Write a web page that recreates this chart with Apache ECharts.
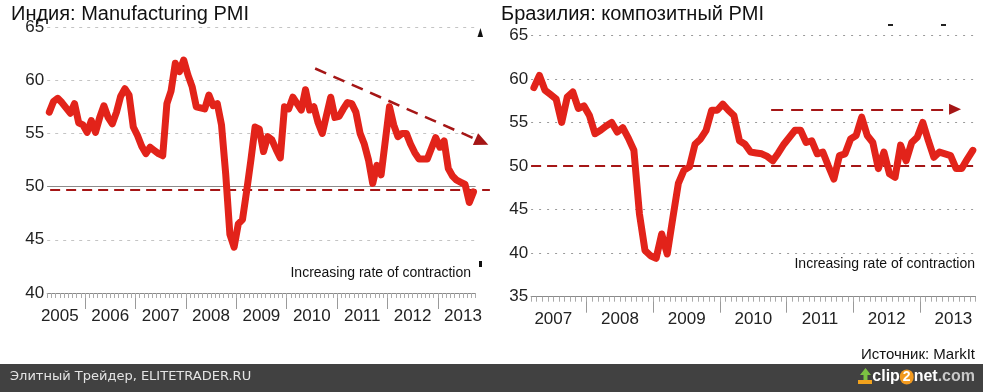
<!DOCTYPE html>
<html><head><meta charset="utf-8">
<script src="https://cdn.jsdelivr.net/npm/echarts@6/dist/echarts.min.js"></script>
<style>html,body{margin:0;padding:0;background:#fff}#c{width:983px;height:392px}</style>
</head><body><div id="c"></div>
<script>
// ---- DATA ----
// India Manufacturing PMI, monthly, first value = April 2005 (month index 3 counted from Jan 2005)
const indiaStartMonth = 3;
const indiaPMI = [
  57.0, 58.0, 58.3, 57.9, 57.4, 56.9, 57.8, 56.0, 55.8,
  55.1, 56.2, 55.1, 56.5, 57.6, 56.5, 55.9, 57.0, 58.5, 59.2, 58.6, 55.6,
  54.8, 53.8, 53.1, 53.7, 53.4, 53.1, 52.9, 57.8, 59.0, 61.6, 60.8, 61.9,
  60.5, 59.4, 57.5, 57.4, 57.3, 58.6, 57.6, 57.8, 55.8, 51.2, 45.5, 44.3,
  46.5, 46.9, 49.6, 52.5, 55.6, 55.4, 53.3, 54.7, 54.4, 53.5, 52.7, 57.5,
  57.3, 58.4, 57.8, 57.2, 59.1, 57.2, 57.5, 56.0, 55.0, 56.7, 58.4, 56.5,
  56.6, 57.3, 57.9, 57.8, 57.0, 55.0, 54.0, 52.5, 50.3, 52.0, 51.1, 54.3,
  57.5, 55.8, 54.7, 55.0, 55.0, 54.0, 53.2, 52.6, 52.6, 52.6, 53.6, 54.6,
  53.7, 54.3, 51.7, 51.0, 50.6, 50.4, 50.2, 48.5, 49.5
];
// Brazil composite PMI, monthly, first value = March 2007 (month index 2 counted from Jan 2007)
const brazilStartMonth = 2;
const brazilPMI = [
  59.0, 60.4, 58.7, 58.2, 57.7, 55.0, 57.9, 58.5, 56.6, 56.9,
  55.8, 53.7, 54.1, 54.6, 55.0, 53.9, 54.4, 53.2, 51.8, 44.5, 40.3, 39.7,
  39.4, 42.2, 39.9, 44.0, 48.0, 49.5, 49.9, 52.5, 53.1, 54.1, 56.4, 56.4,
  57.1, 56.4, 55.8, 52.9, 52.5, 51.6, 51.5, 51.4, 51.1, 50.6, 51.5, 52.5,
  53.3, 54.1, 54.1, 52.7, 52.9, 51.4, 51.6, 50.0, 48.5, 51.2, 51.4, 53.1,
  53.5, 55.6, 53.5, 52.7, 49.7, 51.6, 49.1, 48.7, 52.4, 50.6, 52.7, 53.3,
  55.0, 52.9, 51.0, 51.6, 51.4, 51.2, 49.7, 49.7, 50.8, 51.8
];
const indiaYears = ['2005','2006','2007','2008','2009','2010','2011','2012','2013'];
const brazilYears = ['2007','2008','2009','2010','2011','2012','2013'];
const indiaYRange = [40, 65];
const brazilYRange = [35, 65];
const indiaZeroLine = 49.7;   // dashed annotation level
const brazilZeroLine = 50;
const indiaTrend = [[66.8, 61.1], [106.5, 54.2]];
const brazilTrend = [[45.2, 56.5], [78.3, 56.5]];

// ---- CHART ----
const FONT = "'Liberation Sans', Arial, sans-serif";
const toPairs = (arr, start) => arr.map((v, i) => [start + i + 0.5, v]);
const yearTicks = n => Array.from({length: n - 1}, (_, i) => 12 * (i + 1));
const yearMids = n => Array.from({length: n}, (_, i) => 12 * i + 6);

const chart = echarts.init(document.getElementById('c'), null, {renderer: 'canvas'});
const dark = '#a51616';
const red = '#e2231a';

function yearAxis(grid, min, max, years, margin) {
  return {
    type: 'value', gridIndex: grid, min: min, max: max, position: 'bottom',
    axisLine: {show: true, lineStyle: {color: '#8a8a8a', width: 1}},
    axisTick: {show: true, customValues: yearTicks(years.length), length: 16, lineStyle: {color: '#9a9a9a'}},
    axisLabel: {show: true, customValues: yearMids(years.length), formatter: v => years[Math.round((v - 6) / 12)],
      fontSize: 17, color: '#222', fontFamily: FONT, margin: margin},
    splitLine: {show: false}
  };
}
function monthAxis(grid, min, max) {
  return {
    type: 'value', gridIndex: grid, min: min, max: max, interval: 1, position: 'bottom',
    axisLine: {show: false}, axisTick: {show: true, length: 5, lineStyle: {color: '#aaa'}},
    axisLabel: {show: false}, splitLine: {show: false}
  };
}
function valAxis(grid, range, dash, color) {
  return {
    type: 'value', gridIndex: grid, min: range[0], max: range[1], interval: 5,
    axisLine: {show: false}, axisTick: {show: false},
    axisLabel: {fontSize: 17, color: '#222', fontFamily: FONT, margin: 3},
    splitLine: {show: true, lineStyle: {color: color, type: dash, width: 1}}
  };
}

chart.setOption({
  animation: false,
  backgroundColor: '#fff',
  grid: [
    {left: 47.2, top: 27, width: 428.4, height: 266},
    {left: 34.6, top: 27, width: 462, height: 266},
    {left: 531.1, top: 35.3, width: 444.5, height: 261.4}
  ],
  xAxis: [
    yearAxis(0, 3, 105, indiaYears, 15),
    monthAxis(0, 3, 105),
    {type: 'value', gridIndex: 1, min: 0, max: 110, show: false},
    yearAxis(2, 2, 82, brazilYears, 14),
    monthAxis(2, 2, 82)
  ],
  yAxis: [
    valAxis(0, indiaYRange, [3, 5], '#c4c4c4'),
    {type: 'value', gridIndex: 1, min: indiaYRange[0], max: indiaYRange[1], show: false},
    valAxis(2, brazilYRange, [2, 6], '#9a9a9a')
  ],
  series: [
    {
      type: 'line', xAxisIndex: 0, yAxisIndex: 0, data: toPairs(indiaPMI, indiaStartMonth),
      showSymbol: false, symbol: 'none', z: 5,
      lineStyle: {color: red, width: 7, join: 'round', cap: 'round'},
      markLine: {silent: true, symbol: ['none', 'none'], label: {show: false}, z: 2,
        lineStyle: {color: '#8c8c8c', type: 'solid', width: 1},
        data: [{yAxis: 50}]}
    },
    {
      type: 'line', xAxisIndex: 2, yAxisIndex: 1, data: [[0, 40]], showSymbol: false, symbol: 'none',
      lineStyle: {opacity: 0}, z: 6,
      markLine: {silent: true, symbol: ['none', 'none'], label: {show: false},
        data: [
          [{coord: [3.7, indiaZeroLine], lineStyle: {color: dark, type: [10, 6], width: 2}},
           {coord: [108.4, indiaZeroLine]}],
          [{coord: indiaTrend[0], symbol: 'none', lineStyle: {color: dark, type: [12, 8], width: 2.5}},
           {coord: indiaTrend[1], symbol: 'triangle', symbolSize: [13, 14]}]
        ]}
    },
    {
      type: 'line', xAxisIndex: 3, yAxisIndex: 2, data: toPairs(brazilPMI, brazilStartMonth),
      showSymbol: false, symbol: 'none', z: 5,
      lineStyle: {color: red, width: 7, join: 'round', cap: 'round'},
      markLine: {silent: true, symbol: ['none', 'none'], label: {show: false}, z: 3,
        data: [
          {yAxis: brazilZeroLine, lineStyle: {color: dark, type: [10, 6], width: 2}},
          [{coord: brazilTrend[0], symbol: 'none', lineStyle: {color: dark, type: [12, 8], width: 2}},
           {coord: brazilTrend[1], symbol: 'triangle', symbolSize: [11, 12]}]
        ]}
    }
  ],
  graphic: [
    {type: 'text', left: 11, top: 4, style: {text: 'Индия: Manufacturing PMI', fill: '#111', font: '20px ' + FONT}},
    {type: 'text', left: 501, top: 4, style: {text: 'Бразилия: композитный PMI', fill: '#111', font: '20px ' + FONT}},
    {type: 'text', right: 512, top: 266, style: {text: 'Increasing rate of contraction', fill: '#111', font: '14px ' + FONT}},
    {type: 'text', right: 8, top: 257, style: {text: 'Increasing rate of contraction', fill: '#111', font: '14px ' + FONT}},
    {type: 'text', right: 8, top: 347, style: {text: 'Источник: MarkIt', fill: '#111', font: '15px ' + FONT}},
    {type: 'polygon', shape: {points: [[477.5, 37], [480.5, 28], [483, 37]]}, style: {fill: '#111'}},
    {type: 'rect', shape: {x: 479, y: 261, width: 3, height: 6}, style: {fill: '#111'}},
    {type: 'rect', shape: {x: 888, y: 24, width: 5, height: 2}, style: {fill: '#222'}},
    {type: 'rect', shape: {x: 941, y: 24, width: 5, height: 2}, style: {fill: '#222'}},
    {type: 'rect', shape: {x: 0, y: 364, width: 983, height: 28}, style: {fill: '#414141'}},
    {type: 'text', left: 10, top: 370, style: {text: 'Элитный Трейдер, ELITETRADER.RU', fill: '#e4e4e4', font: "13px 'DejaVu Sans', sans-serif"}},
    {type: 'polygon', shape: {points: [[860, 375], [865.5, 368], [871, 375], [867.5, 375], [867.5, 380], [863.5, 380], [863.5, 375]]}, style: {fill: '#7cc242'}},
    {type: 'rect', shape: {x: 858, y: 380, width: 14, height: 4}, style: {fill: '#f2a21d'}},
    {type: 'text', right: 8, top: 369, style: {
      text: '{a|clip}{b|2}{a|net}{c|.com}',
      rich: {
        a: {fill: '#ffffff', font: 'bold 16px ' + FONT},
        b: {fill: '#ffffff', font: 'bold 14px ' + FONT, backgroundColor: '#f29a1f', borderRadius: 8, padding: [1, 3, 0, 3]},
        c: {fill: '#c8c8c8', font: 'bold 16px ' + FONT}
      }}}
  ]
});
</script></body></html>
